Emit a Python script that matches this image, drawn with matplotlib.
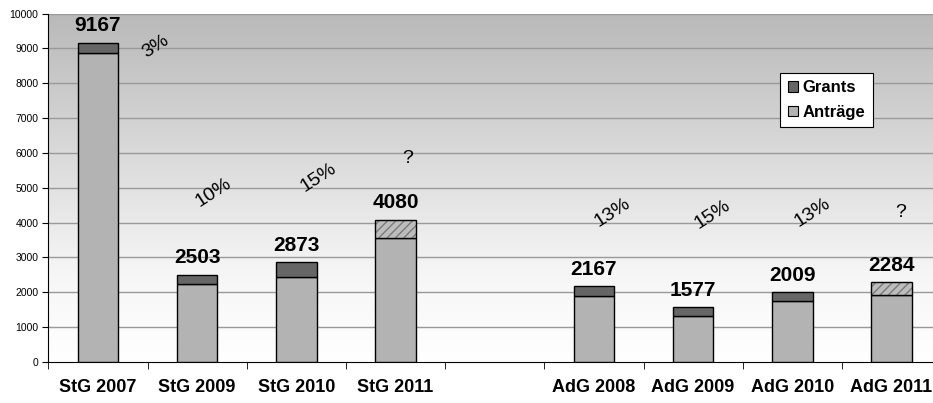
import matplotlib
matplotlib.use("Agg")
import matplotlib.pyplot as plt
import numpy as np

plt.rcParams['font.family'] = ['Liberation Sans', 'DejaVu Sans']

categories = ["StG 2007", "StG 2009", "StG 2010", "StG 2011", "",
              "AdG 2008", "AdG 2009", "AdG 2010", "AdG 2011"]
totals = [9167, 2503, 2873, 4080, None, 2167, 1577, 2009, 2284]
antraege = [8868, 2250, 2440, 3560, None, 1900, 1330, 1748, 1911]
estimated = [False, False, False, True, False, False, False, False, True]
pct_labels = ["3%", "10%", "15%", "?", None, "13%", "15%", "13%", "?"]
pct_pos = [(0.58, 9040), (1.16, 4850), (2.22, 5300), (3.12, 5850), None,
           (5.19, 4280), (6.2, 4220), (7.2, 4300), (8.09, 4300)]

W, H = 933, 403
fig = plt.figure(figsize=(W / 100, H / 100), dpi=100)
fig.patch.set_facecolor('white')
slot = 99.2
ax = fig.add_axes([48.3 / W, 41 / H, 9 * slot / W, 348.5 / H])

n = len(categories)
x = np.arange(n)
ax.set_xlim(-0.5, n - 0.5)
ax.set_ylim(0, 10000)

# gradient background
grad = np.linspace(0, 1, 256).reshape(-1, 1)
cmap = matplotlib.colors.LinearSegmentedColormap.from_list(
    "bg", [(0.0, "#ffffff"), (0.25, "#f6f6f6"), (1.0, "#b9b9b9")])
ax.imshow(grad, extent=(-0.5, n - 0.5, 0, 10000), origin='lower',
          aspect='auto', cmap=cmap, zorder=0)

for yv in range(1000, 10001, 1000):
    ax.axhline(yv, color='#9a9a9a', lw=1.0, zorder=1)

bw = 0.41
c_ant = '#b3b3b3'
c_gr = '#666666'
for i in range(n):
    if totals[i] is None:
        continue
    a = antraege[i]
    g = totals[i] - a
    ax.bar(x[i], a, bw, color=c_ant, edgecolor='black', lw=1.0, zorder=3)
    if estimated[i]:
        ax.bar(x[i], g, bw, bottom=a, color='#bdbdbd', edgecolor='#7a7a7a',
               hatch='////', lw=0, zorder=3)
        ax.bar(x[i], g, bw, bottom=a, fill=False, edgecolor='black', lw=1.0, zorder=4)
    else:
        ax.bar(x[i], g, bw, bottom=a, color=c_gr, edgecolor='black', lw=1.0, zorder=3)
    ax.text(x[i], totals[i] + 210, str(totals[i]), ha='center', va='bottom',
            fontsize=15, fontweight='bold', zorder=5)
    if pct_labels[i]:
        px, py = pct_pos[i]
        rot = 0 if pct_labels[i] == "?" else 33
        ax.text(px, py, pct_labels[i], ha='center', va='center', rotation=rot,
                fontsize=14, zorder=5)

# axes styling
for s in ['top', 'right']:
    ax.spines[s].set_visible(False)
ax.spines['left'].set_color('black')
ax.spines['bottom'].set_color('black')
ax.set_yticks(range(0, 10001, 1000))
ax.set_yticklabels([str(v) for v in range(0, 10001, 1000)], fontsize=7.5)
ax.tick_params(axis='y', length=4, pad=3)
ax.set_xticks(x)
ax.set_xticklabels(categories, fontsize=13, fontweight='bold')
ax.tick_params(axis='x', length=0, pad=12)
ax.set_xticks(np.arange(-0.5, n + 0.5, 1), minor=True)
ax.tick_params(axis='x', which='minor', length=5, direction='out')

# legend
from matplotlib.patches import Patch
handles = [Patch(facecolor=c_gr, edgecolor='black', lw=0.8, label='Grants'),
           Patch(facecolor=c_ant, edgecolor='black', lw=0.8, label='Anträge')]
leg = fig.legend(handles=handles, loc='upper left',
                 bbox_to_anchor=(780 / W, 1 - 73 / H), borderaxespad=0,
                 prop={'weight': 'bold', 'size': 12}, frameon=True,
                 fancybox=False, edgecolor='black', framealpha=1,
                 handlelength=0.6, handleheight=0.6, handletextpad=0.3,
                 borderpad=0.45, labelspacing=0.55)
leg.get_frame().set_linewidth(0.8)

fig.savefig("out.png", dpi=100)
